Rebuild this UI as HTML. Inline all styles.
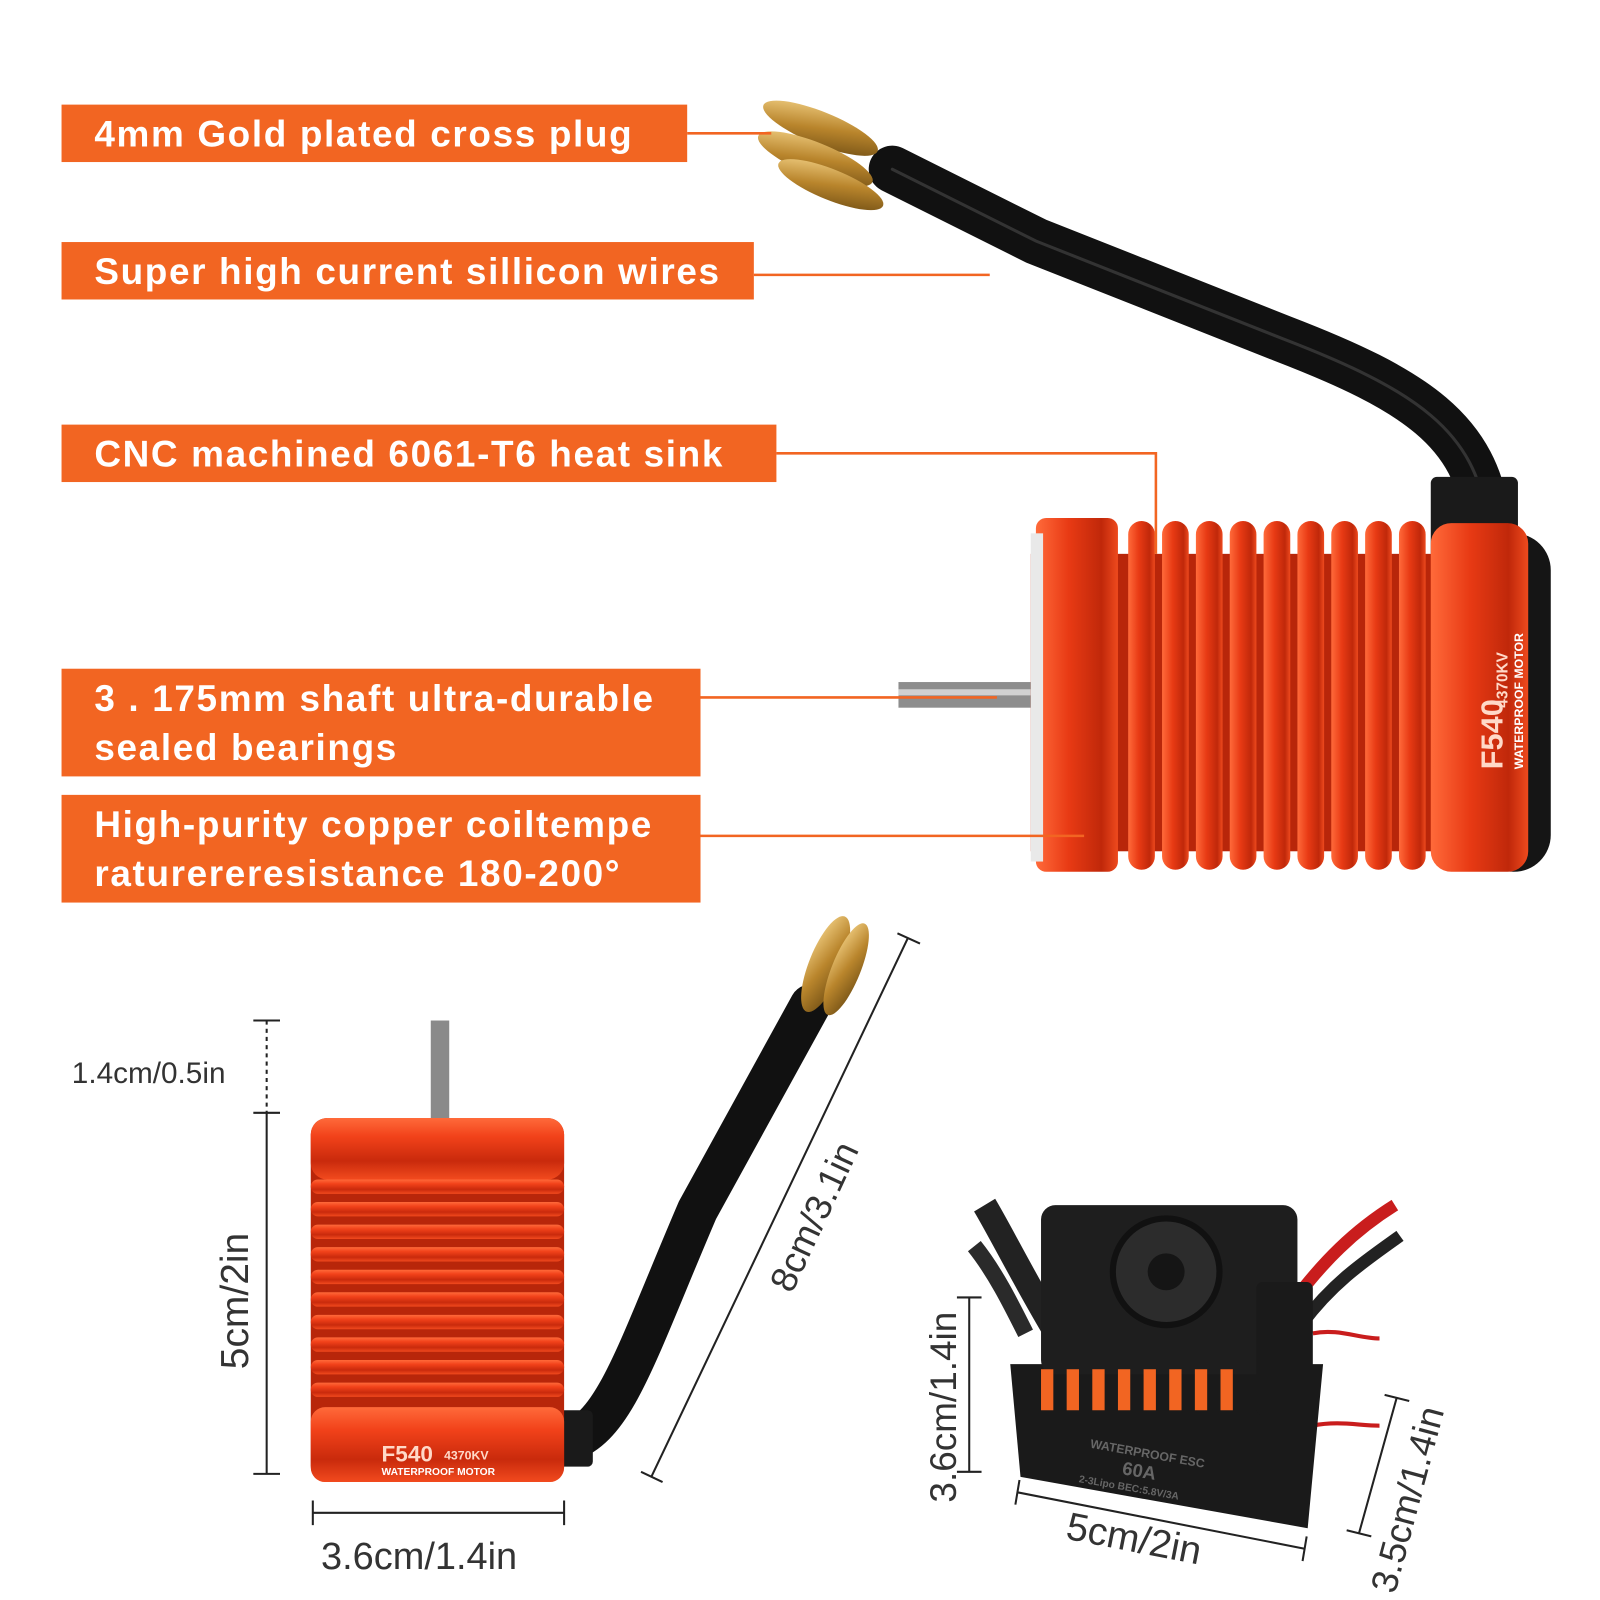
<!DOCTYPE html>
<html><head><meta charset="utf-8"><style>
html,body{margin:0;padding:0;background:#fff}
svg{display:block}
text{font-family:"Liberation Sans",sans-serif}
</style></head><body>
<svg width="1600" height="1600" viewBox="0 0 1560 1560" xmlns="http://www.w3.org/2000/svg">
<defs>
<linearGradient id="red" x1="0" y1="0" x2="0" y2="1">
<stop offset="0" stop-color="#ff6a3a"/><stop offset="0.3" stop-color="#f2421a"/><stop offset="0.7" stop-color="#c92a0c"/><stop offset="1" stop-color="#f24a1e"/></linearGradient>
<linearGradient id="redv" x1="0" y1="0" x2="1" y2="0">
<stop offset="0" stop-color="#ff6a3a"/><stop offset="0.4" stop-color="#e83a14"/><stop offset="0.8" stop-color="#c0280a"/><stop offset="1" stop-color="#ee4a1e"/></linearGradient>
<linearGradient id="gold" x1="0" y1="0" x2="1" y2="1">
<stop offset="0" stop-color="#f6d58a"/><stop offset="0.5" stop-color="#b9852c"/><stop offset="1" stop-color="#6b4a12"/></linearGradient>
</defs>
<rect width="1560" height="1560" fill="#fff"/>

<g fill="#f26522">
<rect x="60" y="102" width="610" height="56"/>
<rect x="60" y="236" width="675" height="56"/>
<rect x="60" y="414" width="697" height="56"/>
<rect x="60" y="652" width="623" height="105"/>
<rect x="60" y="775" width="623" height="105"/>
</g>
<g fill="#fff" font-size="36" font-weight="bold" letter-spacing="1.6">
<text x="92" y="143">4mm Gold plated cross plug</text>
<text x="92" y="277">Super high current sillicon wires</text>
<text x="92" y="455">CNC machined 6061-T6 heat sink</text>
<text x="92" y="693">3 . 175mm shaft ultra-durable</text>
<text x="92" y="741">sealed bearings</text>
<text x="92" y="816">High-purity copper coiltempe</text>
<text x="92" y="864">raturereresistance 180-200°</text>
</g>

<g fill="none" stroke-linecap="round">
<path d="M1450 510 C1440 420 1380 380 1250 330 L1010 235 L870 165" stroke="#111" stroke-width="46"/>
<path d="M1450 510 C1440 420 1380 380 1250 330 L1010 235 L870 165" stroke="#333" stroke-width="3"/>
</g>
<g fill="url(#gold)">
<ellipse cx="800" cy="125" rx="60" ry="16" transform="rotate(22 800 125)"/>
<ellipse cx="795" cy="155" rx="60" ry="16" transform="rotate(22 795 155)"/>
<ellipse cx="810" cy="180" rx="55" ry="15" transform="rotate(22 810 180)"/>
</g>
<rect x="1395" y="465" width="85" height="80" fill="#1a1a1a" rx="6"/>
<rect x="876" y="665" width="140" height="25" fill="#8d8d8d"/>
<rect x="876" y="672" width="140" height="6" fill="#d0d0d0"/>
<rect x="1440" y="520" width="72" height="330" rx="36" fill="#151515"/>
<rect x="1005" y="540" width="440" height="290" fill="#b8260a"/>
<g fill="url(#redv)">
<rect x="1100" y="508" width="26" height="340" rx="13"/>
<rect x="1133" y="508" width="26" height="340" rx="13"/>
<rect x="1166" y="508" width="26" height="340" rx="13"/>
<rect x="1199" y="508" width="26" height="340" rx="13"/>
<rect x="1232" y="508" width="26" height="340" rx="13"/>
<rect x="1265" y="508" width="26" height="340" rx="13"/>
<rect x="1298" y="508" width="26" height="340" rx="13"/>
<rect x="1331" y="508" width="26" height="340" rx="13"/>
<rect x="1364" y="508" width="26" height="340" rx="13"/>
</g>
<rect x="1010" y="505" width="80" height="345" fill="url(#redv)" rx="10"/>
<rect x="1005" y="520" width="12" height="320" fill="#e9e9e9"/>
<rect x="1395" y="510" width="95" height="340" rx="20" fill="url(#redv)"/>
<text transform="translate(1465 750) rotate(-90)" font-size="30" font-weight="bold" fill="#ffd9c8">F540</text>
<text transform="translate(1470 690) rotate(-90)" font-size="15" font-weight="bold" fill="#ffd9c8">4370KV</text>
<text transform="translate(1485 750) rotate(-90)" font-size="12" font-weight="bold" fill="#fff">WATERPROOF MOTOR</text>

<g stroke="#f26522" stroke-width="2.5" fill="none">
<path d="M670 130 H752"/>
<path d="M735 268 H965"/>
<path d="M757 442 H1127 V540"/>
<path d="M683 680 H972"/>
<path d="M683 815 H1057"/>
</g>

<path d="M555 1405 C600 1390 620 1320 680 1180 L790 980" fill="none" stroke="#111" stroke-width="40" stroke-linecap="round"/>
<g fill="url(#gold)">
<ellipse cx="805" cy="940" rx="16" ry="50" transform="rotate(22 805 940)"/>
<ellipse cx="825" cy="945" rx="14" ry="48" transform="rotate(22 825 945)"/>
</g>
<rect x="533" y="1375" width="45" height="55" fill="#1a1a1a" rx="5"/>
<rect x="420" y="995" width="18" height="100" fill="#8a8a8a"/>
<rect x="303" y="1090" width="247" height="355" rx="16" fill="#b8260a"/>
<rect x="303" y="1090" width="247" height="60" rx="16" fill="url(#red)"/>
<g fill="url(#red)">
<rect x="303" y="1150" width="247" height="14" rx="7"/>
<rect x="303" y="1172" width="247" height="14" rx="7"/>
<rect x="303" y="1194" width="247" height="14" rx="7"/>
<rect x="303" y="1216" width="247" height="14" rx="7"/>
<rect x="303" y="1238" width="247" height="14" rx="7"/>
<rect x="303" y="1260" width="247" height="14" rx="7"/>
<rect x="303" y="1282" width="247" height="14" rx="7"/>
<rect x="303" y="1304" width="247" height="14" rx="7"/>
<rect x="303" y="1326" width="247" height="14" rx="7"/>
<rect x="303" y="1348" width="247" height="14" rx="7"/>
</g>
<rect x="303" y="1372" width="247" height="73" rx="14" fill="url(#red)"/>
<text x="372" y="1425" font-size="22" font-weight="bold" fill="#ffd9c8">F540</text>
<text x="433" y="1423" font-size="12" font-weight="bold" fill="#ffd9c8">4370KV</text>
<text x="372" y="1438" font-size="10" font-weight="bold" fill="#fff">WATERPROOF MOTOR</text>

<path d="M1030 1300 C1000 1250 975 1200 960 1175" stroke="#222" stroke-width="24" fill="none"/>
<path d="M1000 1300 C985 1270 970 1240 950 1215" stroke="#2a2a2a" stroke-width="16" fill="none"/>
<path d="M1260 1270 C1290 1230 1320 1200 1360 1175" stroke="#c91d1d" stroke-width="12" fill="none"/>
<path d="M1270 1290 C1300 1250 1330 1230 1365 1205" stroke="#222" stroke-width="12" fill="none"/>
<path d="M1280 1300 C1305 1295 1325 1305 1345 1305" stroke="#c91d1d" stroke-width="4" fill="none"/>
<path d="M1280 1390 C1305 1385 1325 1390 1345 1390" stroke="#c91d1d" stroke-width="4" fill="none"/>
<path d="M985 1330 L1290 1330 L1275 1490 L995 1440 Z" fill="#1a1a1a"/>
<rect x="1015" y="1175" width="250" height="165" rx="14" fill="#1e1e1e"/>
<circle cx="1137" cy="1240" r="52" fill="#2c2c2c" stroke="#111" stroke-width="6"/>
<circle cx="1137" cy="1240" r="18" fill="#151515"/>
<rect x="1225" y="1250" width="55" height="130" fill="#1a1a1a" rx="6"/>
<g fill="#f26522">
<rect x="1015" y="1335" width="12" height="40"/><rect x="1040" y="1335" width="12" height="40"/>
<rect x="1065" y="1335" width="12" height="40"/><rect x="1090" y="1335" width="12" height="40"/>
<rect x="1115" y="1335" width="12" height="40"/><rect x="1140" y="1335" width="12" height="40"/>
<rect x="1165" y="1335" width="12" height="40"/><rect x="1190" y="1335" width="12" height="40"/>
</g>
<g transform="rotate(10 1110 1430)" fill="#666" font-weight="bold">
<text x="1060" y="1420" font-size="12">WATERPROOF ESC</text>
<text x="1095" y="1440" font-size="18">60A</text>
<text x="1055" y="1455" font-size="10">2-3Lipo BEC:5.8V/3A</text>
</g>

<g stroke="#222" stroke-width="2" fill="none">
<path d="M260 995 V1085" stroke-dasharray="4 4"/>
<path d="M260 1085 V1437"/>
<path d="M247 995 H273 M247 1085 H273 M247 1437 H273"/>
<path d="M305 1475 H550 M305 1463 V1487 M550 1463 V1487"/>
<path d="M885 915 L635 1440 M875 910 L897 920 M625 1435 L646 1445"/>
<path d="M945 1265 V1435 M933 1265 H957 M933 1435 H957"/>
<path d="M992 1455 L1272 1510 M994 1443 L990 1467 M1274 1498 L1270 1522"/>
<path d="M1362 1362 L1325 1495 M1350 1360 L1374 1366 M1313 1492 L1337 1498"/>
</g>
<g fill="#333" font-size="30">
<text x="70" y="1056" font-size="29">1.4cm/0.5in</text>
<text transform="translate(242 1335) rotate(-90)" font-size="38">5cm/2in</text>
<text x="313" y="1530" font-size="37">3.6cm/1.4in</text>
<text transform="translate(772 1262) rotate(-65)" font-size="36">8cm/3.1in</text>
<text transform="translate(932 1465) rotate(-90)" font-size="36">3.6cm/1.4in</text>
<text transform="translate(1038 1500) rotate(11)" font-size="38">5cm/2in</text>
<text transform="translate(1360 1555) rotate(-75)" font-size="36">3.5cm/1.4in</text>
</g>
</svg>
</body></html>
